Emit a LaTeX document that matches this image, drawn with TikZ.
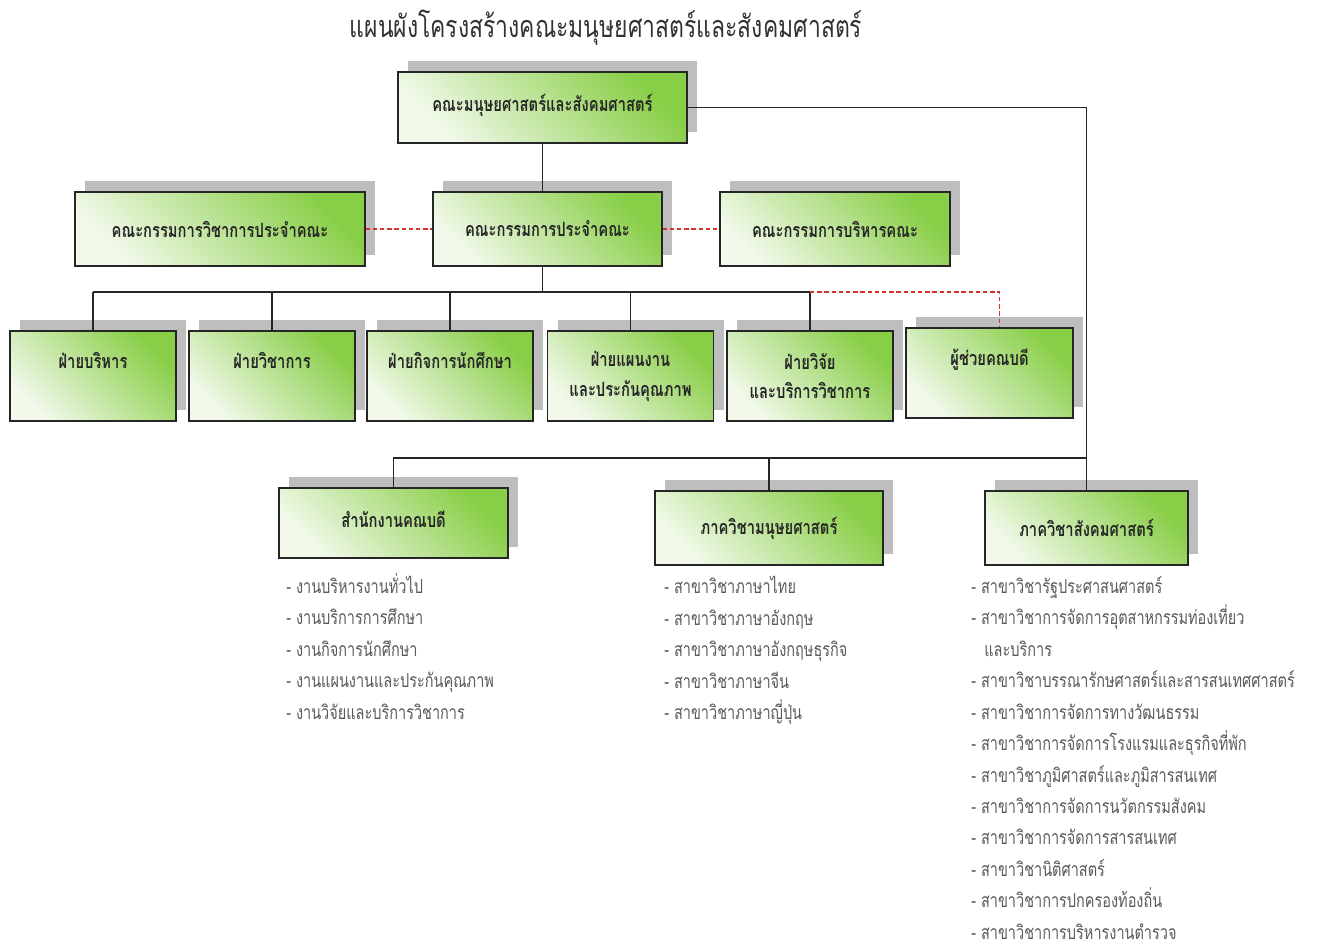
\documentclass[tikz,border=0pt]{standalone}
\usepackage{fontspec}
\newfontfamily\thaifont[Script=Thai, FakeStretch=0.75]{Loma}
\usepackage{tikz}
\usetikzlibrary{positioning, shadows, calc}

\definecolor{boxgreen}{RGB}{136,206,70}
\definecolor{boxlight}{RGB}{242,249,235}
\definecolor{shadowgray}{RGB}{190,190,190}
\definecolor{linkred}{RGB}{214,48,44}
\definecolor{listgray}{RGB}{90,90,90}

\tikzset{
	unit/.style={draw=black!85, line width=0.7pt, rectangle, top color=boxgreen,
		bottom color=boxlight, shading angle=-45,
		drop shadow={shadow xshift=0.2cm, shadow yshift=0.22cm, fill=shadowgray, opacity=1},
		align=center, text=black!85, font=\thaifont\bfseries\fontsize{11.2}{17}\selectfont},
	toptext/.style={text depth=0.62cm},
	link/.style={draw=black!85, line width=0.6pt},
	redlink/.style={draw=linkred, line width=0.6pt, dash pattern=on 2.5pt off 1.6pt},
	unitlist/.style={anchor=north west, align=left, inner sep=0pt, text=listgray,
		font=\thaifont\fontsize{11}{17.9}\selectfont}
}

\begin{document}
\begin{tikzpicture}
		
		\useasboundingbox (0,0) rectangle (26.38,-18.92);
		
		%Title
		\node (title) at (12.12,-0.56) [text=black!80, font=\thaifont\fontsize{17.4}{20}\selectfont]
		{แผนผังโครงสร้างคณะมนุษยศาสตร์และสังคมศาสตร์};
		
		%Nodes in the first part of the scheme
		\node (faculty) at (10.85,-2.15) [unit, text depth=0.18cm, minimum width=5.78cm, minimum 
		height=1.42cm]{คณะมนุษยศาสตร์และสังคมศาสตร์};
		
		\node (acadBoard) at (4.4,-4.58) [unit, minimum width=5.8cm, minimum 
		height=1.48cm]{คณะกรรมการวิชาการประจำคณะ};
		
		\node (board) at (10.95,-4.58) [unit, minimum width=4.58cm, minimum 
		height=1.48cm]{คณะกรรมการประจำคณะ};
		
		\node (execBoard) at (16.7,-4.58) [unit, minimum width=4.6cm, minimum 
		height=1.48cm]{คณะกรรมการบริหารคณะ};
		
		%Nodes in the second part of the scheme
		\node (adminDiv) at (1.86,-7.52) [unit, toptext, minimum width=3.32cm, minimum 
		height=1.8cm]{ฝ่ายบริหาร};
		
		\node (acadDiv) at (5.44,-7.52) [unit, toptext, minimum width=3.32cm, minimum 
		height=1.8cm]{ฝ่ายวิชาการ};
		
		\node (studentDiv) at (9.0,-7.52) [unit, toptext, minimum width=3.32cm, minimum 
		height=1.8cm]{ฝ่ายกิจการนักศึกษา};
		
		\node (planDiv) at (12.61,-7.52) [unit, minimum width=3.32cm, minimum 
		height=1.8cm]{ฝ่ายแผนงาน\\และประกันคุณภาพ};
		
		\node (researchDiv) at (16.2,-7.52) [unit, minimum width=3.32cm, minimum 
		height=1.8cm]{ฝ่ายวิจัย\\และบริการวิชาการ};
		
		\node (assistant) at (19.79,-7.46) [unit, toptext, minimum width=3.34cm, minimum 
		height=1.8cm]{ผู้ช่วยคณบดี};
		
		%Nodes in the third part of the scheme
		\node (deanOffice) at (7.87,-10.46) [unit, text depth=0.14cm, minimum width=4.58cm, minimum 
		height=1.4cm]{สำนักงานคณบดี};
		
		\node (humDept) at (15.38,-10.56) [unit, minimum width=4.56cm, minimum 
		height=1.48cm]{ภาควิชามนุษยศาสตร์};
		
		\node (socDept) at (21.73,-10.56) [unit, minimum width=4.06cm, minimum 
		height=1.48cm]{ภาควิชาสังคมศาสตร์};
		
		%Lists under the third part
		\node (deanList) at (5.72,-11.46) [unitlist]{- งานบริหารงานทั่วไป\\
			- งานบริการการศึกษา\\
			- งานกิจการนักศึกษา\\
			- งานแผนงานและประกันคุณภาพ\\
			- งานวิจัยและบริการวิชาการ};
		
		\node (humList) at (13.28,-11.52) [unitlist]{- สาขาวิชาภาษาไทย\\
			- สาขาวิชาภาษาอังกฤษ\\
			- สาขาวิชาภาษาอังกฤษธุรกิจ\\
			- สาขาวิชาภาษาจีน\\
			- สาขาวิชาภาษาญี่ปุ่น};
		
		\node (socList) at (19.42,-11.52) [unitlist]{- สาขาวิชารัฐประศาสนศาสตร์\\
			- สาขาวิชาการจัดการอุตสาหกรรมท่องเที่ยว\\
			\hspace*{0.26cm}และบริการ\\
			- สาขาวิชาบรรณารักษศาสตร์และสารสนเทศศาสตร์\\
			- สาขาวิชาการจัดการทางวัฒนธรรม\\
			- สาขาวิชาการจัดการโรงแรมและธุรกิจที่พัก\\
			- สาขาวิชาภูมิศาสตร์และภูมิสารสนเทศ\\
			- สาขาวิชาการจัดการนวัตกรรมสังคม\\
			- สาขาวิชาการจัดการสารสนเทศ\\
			- สาขาวิชานิติศาสตร์\\
			- สาขาวิชาการปกครองท้องถิ่น\\
			- สาขาวิชาการบริหารงานตำรวจ};
		
		%Links
		\coordinate (midBus) at (10.85,-5.84);
		\coordinate (lowBus) at (21.73,-9.16);
		
		\draw[link] (faculty.south) -- (faculty.south |- board.north);
		
		\draw[link] (faculty.east) -| (socDept.north);
		
		\draw[redlink] (acadBoard.east) -- (board.west);
		
		\draw[redlink] (board.east) -- (execBoard.west);
		
		\draw[link] (midBus |- board.south) -- (midBus);
		
		\draw[link] (adminDiv.north |- midBus) -- (researchDiv.north |- midBus);
		
		\foreach \division in {adminDiv, acadDiv, studentDiv, planDiv, researchDiv}
		\draw[link] (\division.north |- midBus) -- (\division.north);
		
		\draw[redlink] (researchDiv.north |- midBus) -| ([xshift=0.2cm]assistant.north);
		
		\draw[link] (deanOffice.north) -- (deanOffice.north |- lowBus) -- (lowBus);
		
		\draw[link] (humDept.north |- lowBus) -- (humDept.north);
		
		\end{tikzpicture}
\end{document}
